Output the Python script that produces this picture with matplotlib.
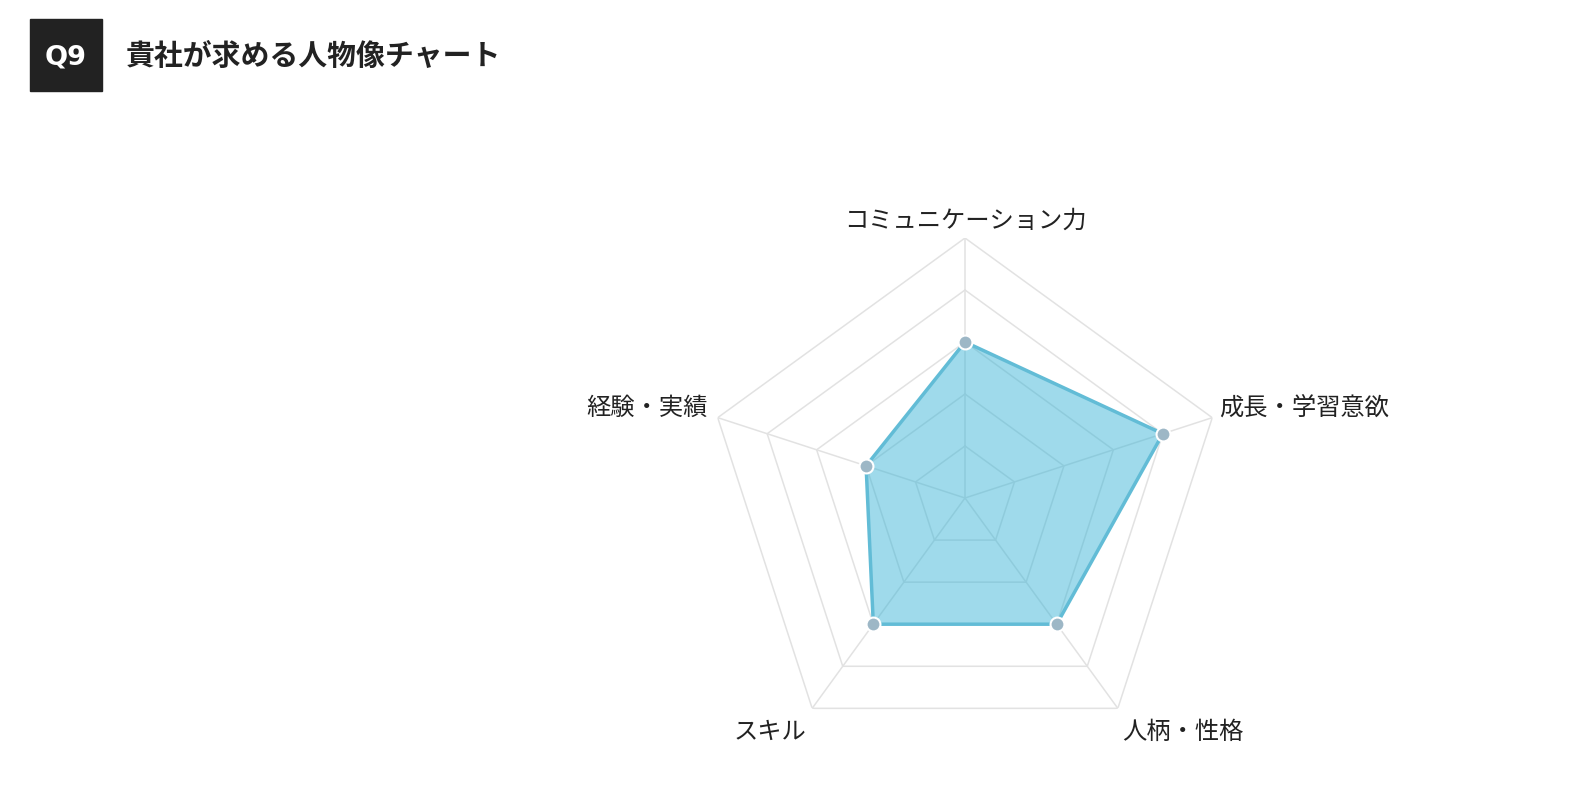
import numpy as np
import matplotlib.pyplot as plt
from matplotlib.patches import Rectangle

plt.rcParams['font.family'] = ['Noto Sans CJK JP', 'DejaVu Sans']

TITLE_NO = "Q9"
TITLE = "貴社が求める人物像チャート"

labels = ["コミュニケーション力", "成長・学習意欲", "人柄・性格", "スキル", "経験・実績"]
values = [3, 4, 3, 3, 2]
levels = [1, 2, 3, 4, 5]

# offsets of label text from the outer vertex, in pixels
label_pos = [
    ((0, 18), 'center'),
    ((7, 11), 'left'),
    ((4, -23), 'left'),
    ((-6, -23), 'right'),
    ((-10, 11), 'right'),
]

GRID = '#e2e2e2'
FILL = '#36b3d6'
LINE = '#62bcd6'
POINT = '#9db7c6'

W, H = 1594, 804
fig = plt.figure(figsize=(W / 100, H / 100), dpi=100)

# header
hdr = fig.add_axes([0, 0, 1, 1])
hdr.set_xlim(0, W)
hdr.set_ylim(H, 0)
hdr.axis('off')
hdr.add_patch(Rectangle((30, 20), 72, 72, color='#222222'))
hdr.text(66, 57, TITLE_NO, color='white', fontsize=19.5, fontweight='bold',
         ha='center', va='center', family=['DejaVu Sans'])
hdr.text(126, 56, TITLE, color='#222222', fontsize=20.8, fontweight='bold',
         ha='left', va='center')

# radar
cx, cy, R = 965, 499, 260
ax = fig.add_axes([(cx - R) / W, (H - cy - R) / H, 2 * R / W, 2 * R / H],
                  projection='polar')
ax.set_theta_offset(np.pi / 2)
ax.set_theta_direction(-1)
ax.set_ylim(0, 5)
ax.axis('off')

n = len(labels)
theta = np.arange(n) * 2 * np.pi / n
theta_c = np.append(theta, theta[0])

for lv in levels:
    ax.plot(theta_c, [lv] * (n + 1), color=GRID, lw=1.1, zorder=1)
for t in theta:
    ax.plot([t, t], [0, levels[-1]], color=GRID, lw=1.1, zorder=1)

vals_c = values + values[:1]
ax.fill(theta_c, vals_c, color=FILL, alpha=0.48, lw=0, zorder=2)
ax.plot(theta_c, vals_c, color=LINE, lw=2.5, zorder=3)
ax.plot(theta, values, 'o', ms=10, mfc=POINT, mec='white', mew=1.5,
        zorder=4, clip_on=False)

for t, lab, (off, ha) in zip(theta, labels, label_pos):
    ax.annotate(lab, xy=(t, levels[-1]), xytext=off, textcoords='offset pixels',
                ha=ha, va='center', fontsize=17.5, color='#222222',
                annotation_clip=False)

fig.savefig('out.png', dpi=100, facecolor='white')
